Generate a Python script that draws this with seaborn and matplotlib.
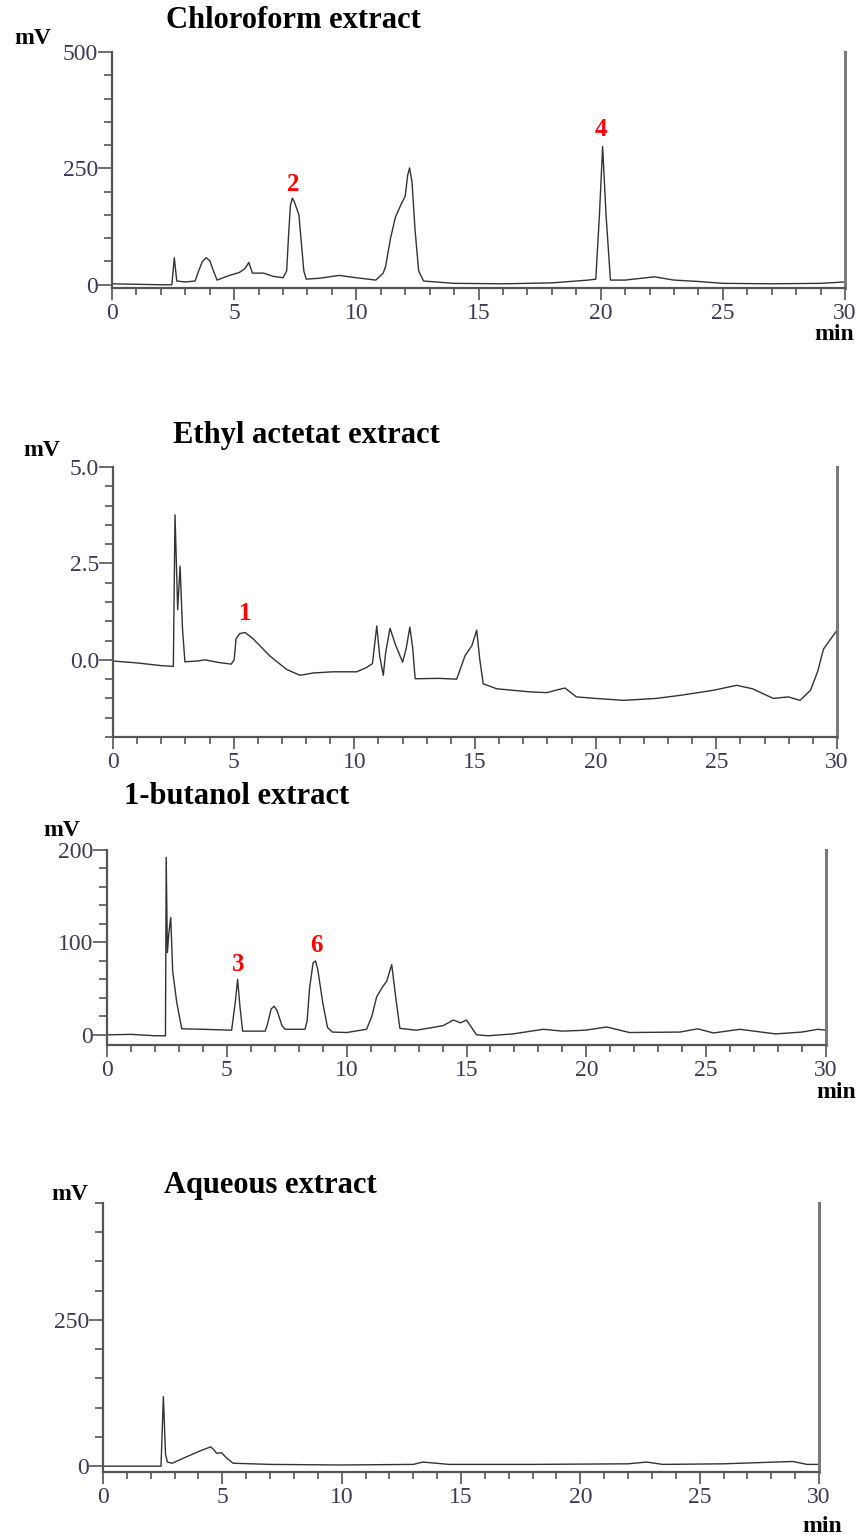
import seaborn as sns
import matplotlib.pyplot as plt
from matplotlib.ticker import MultipleLocator, FixedLocator

# chloroform extract (min, mV)
chl_t = [0.0, 1.0, 2.0, 2.45, 2.55, 2.65, 3.0, 3.4, 3.55, 3.7, 3.85, 4.0, 4.15, 4.3, 4.8, 5.2, 5.45, 5.6,
         5.75, 6.2, 6.6, 7.0, 7.15, 7.22, 7.3, 7.38, 7.45, 7.55, 7.65, 7.75, 7.85, 7.95, 8.5, 9.3,
         10.0, 10.8, 11.1, 11.2, 11.4, 11.6, 11.85, 12.0, 12.1, 12.18, 12.28, 12.4, 12.55, 12.75,
         14.0, 16.0, 18.0, 19.5, 19.8, 19.95, 20.08, 20.22, 20.4, 21.0, 22.2, 23.0, 24.0, 25.0,
         27.0, 29.0, 30.0]
chl_mv = [2, 1, 0, 0, 58, 8, 6, 8, 30, 50, 58, 52, 30, 10, 20, 26, 35, 48,
          25, 25, 18, 15, 30, 100, 170, 186, 180, 165, 150, 90, 30, 12, 14, 20,
          15, 10, 25, 40, 100, 145, 175, 190, 235, 251, 220, 120, 30, 8,
          3, 2, 4, 10, 12, 150, 297, 150, 10, 10, 17, 10, 7, 3,
          2, 3, 6]

# ethyl acetate extract
eth_t = [0.0, 1.0, 2.0, 2.5, 2.57, 2.68, 2.78, 2.88, 2.98, 3.5, 3.8, 4.4, 4.9, 5.02, 5.1, 5.25, 5.47,
         5.8, 6.5, 7.2, 7.75, 8.3, 9.1, 10.1, 10.5, 10.75, 10.93, 11.05, 11.2, 11.3, 11.48, 11.7,
         12.0, 12.15, 12.3, 12.42, 12.52, 13.5, 14.24, 14.59, 14.87, 15.07, 15.2, 15.34, 15.9,
         17.28, 17.97, 18.4, 18.73, 19.2, 20.0, 21.15, 22.5, 23.5, 24.87, 25.84, 26.5, 27.36,
         27.98, 28.47, 28.9, 29.2, 29.44, 29.99]
eth_mv = [-0.03, -0.08, -0.15, -0.17, 3.76, 1.3, 2.43, 0.8, -0.05, -0.03, 0.0, -0.07, -0.11, 0.0, 0.55, 0.68, 0.71,
          0.55, 0.1, -0.25, -0.40, -0.34, -0.31, -0.31, -0.2, -0.1, 0.88, 0.1, -0.4, 0.2, 0.82, 0.4,
          -0.06, 0.3, 0.85, 0.3, -0.49, -0.48, -0.5, 0.11, 0.37, 0.77, 0.0, -0.62, -0.75,
          -0.83, -0.85, -0.78, -0.73, -0.96, -1.0, -1.05, -1.0, -0.92, -0.79, -0.66, -0.75, -1.0,
          -0.96, -1.05, -0.79, -0.3, 0.28, 0.76]

# 1-butanol extract
but_t = [0.0, 1.0, 2.0, 2.44, 2.47, 2.52, 2.58, 2.66, 2.74, 2.91, 3.12, 4.0, 5.2, 5.35, 5.45, 5.55, 5.66,
         6.6, 6.7, 6.85, 6.97, 7.1, 7.3, 7.43, 8.26, 8.35, 8.45, 8.6, 8.7, 8.8, 9.0, 9.2, 9.4,
         10.0, 10.83, 11.05, 11.25, 11.5, 11.67, 11.88, 12.05, 12.22, 12.9, 13.6, 14.03, 14.45,
         14.75, 15.0, 15.42, 15.9, 16.94, 18.2, 19.0, 19.95, 20.85, 21.8, 23.9, 24.65, 25.3,
         26.4, 27.9, 29.0, 29.66, 30.0]
but_mv = [0, 0.5, -1, -1, 192, 89, 110, 127, 69, 35, 6.5, 6, 5, 35, 60, 30, 4,
          4, 12, 28, 31, 26, 10, 6, 6, 15, 50, 78, 80, 70, 35, 8, 3,
          2.5, 6, 20, 41, 52, 58, 76, 40, 7, 5, 8, 10, 16,
          13, 16, 0, -1, 1, 6, 4, 5, 8.5, 2.5, 3, 6.5, 2,
          6, 1, 3, 6, 5]

# aqueous extract
aq_t = [0.0, 2.43, 2.53, 2.62, 2.7, 2.9, 3.5, 4.06, 4.51, 4.65, 4.76, 4.97, 5.15, 5.45, 7.0, 10.0,
        13.0, 13.4, 14.5, 18.0, 22.0, 22.78, 23.45, 26.0, 28.9, 29.5, 30.0]
aq_mv = [0, 0, 119, 20, 7, 5, 16, 26, 33, 28, 22, 23, 15, 5, 3, 2,
         3, 7, 3, 3, 4, 7, 3, 4, 8, 3, 3]

W, H = 867, 1535
sns.set_style('ticks')
plt.rcParams['font.family'] = ['Liberation Serif', 'DejaVu Serif']

fig = plt.figure(figsize=(W / 100, H / 100), dpi=100)


def box(l, r, t, b):
    return [l / W, 1 - b / H, (r - l) / W, (b - t) / H]


def ftext(x, y, s, **kw):
    kw.setdefault('ha', 'center')
    fig.text(x / W, 1 - y / H, s, va='center', **kw)


tick_c = '#3b3b55'
panels = [
    (chl_t, chl_mv, box(112, 845, 52, 288), (-7, 500), [0, 250, 500], ['0', '250', '500'], 50),
    (eth_t, eth_mv, box(113, 837, 467, 737), (-2, 5), [0, 2.5, 5], ['0.0', '2.5', '5.0'], 0.5),
    (but_t, but_mv, box(107, 826, 850, 1045), (-11, 200), [0, 100, 200], ['0', '100', '200'], 20),
    (aq_t, aq_mv, box(103, 819, 1203, 1472), (-10, 450), [0, 250], ['0', '250'], 50),
]
axes = []
for t, mv, rect, ylim, yt, ylab, ymin in panels:
    ax = fig.add_axes(rect)
    sns.lineplot(x=t, y=mv, ax=ax, color='#333333', linewidth=1.0, estimator=None, sort=False)
    ax.set_xlim(0, 30)
    ax.set_ylim(*ylim)
    ax.set_xticks(range(0, 31, 5))
    ax.xaxis.set_minor_locator(MultipleLocator(1))
    ax.set_yticks(yt)
    ax.set_yticklabels(ylab)
    k = round(ylim[1] / ymin)
    mins = [i * ymin for i in range(int(round(ylim[0] / ymin)), k + 1)]
    ax.yaxis.set_minor_locator(FixedLocator([m for m in mins if m >= ylim[0] and m not in yt]))
    ax.tick_params(axis='x', which='major', direction='out', length=8.5, width=1.2,
                   labelsize=17, labelcolor=tick_c, color='#555555', pad=2)
    ax.tick_params(axis='x', which='minor', direction='out', length=5, width=1.2, color='#555555')
    ax.tick_params(axis='y', which='major', direction='out', length=10, width=1.2,
                   labelsize=17, labelcolor=tick_c, color='#555555', pad=0)
    ax.tick_params(axis='y', which='minor', direction='out', length=6, width=1.2, color='#555555')
    ax.spines['top'].set_visible(False)
    for s in ['left', 'bottom']:
        ax.spines[s].set_color('#555555')
        ax.spines[s].set_linewidth(1.6)
    ax.spines['right'].set_color('#7a7a7a')
    ax.spines['right'].set_linewidth(2.2)
    ax.set_xlabel('')
    ax.set_ylabel('')
    ax.patch.set_alpha(0)
    axes.append(ax)

# peak numbers
red = dict(color='red', fontsize=18, fontweight='bold', ha='center', va='center')
axes[0].text(7.41, 215, '2', **red)
axes[0].text(20.02, 333, '4', **red)
axes[1].text(5.47, 1.19, '1', **red)
axes[2].text(5.47, 76, '3', **red)
axes[2].text(8.72, 97, '6', **red)

# titles and unit labels
tt = dict(fontsize=22, fontweight='bold', color='black')
ftext(293, 20, 'Chloroform extract', **tt)
ftext(306, 435, 'Ethyl actetat extract', **tt)
ftext(237, 797, '1-butanol extract', **tt)
ftext(270, 1185, 'Aqueous extract', **tt)

ut = dict(fontsize=17, fontweight='bold', color='black')
ftext(33, 38, 'mV', **ut)
ftext(42, 450, 'mV', **ut)
ftext(62, 830, 'mV', **ut)
ftext(70, 1195, 'mV', **ut)
ftext(834, 334, 'min', **ut)
ftext(836, 1092, 'min', **ut)
ftext(822, 1527, 'min', **ut)

fig.savefig('out.png', dpi=100)
